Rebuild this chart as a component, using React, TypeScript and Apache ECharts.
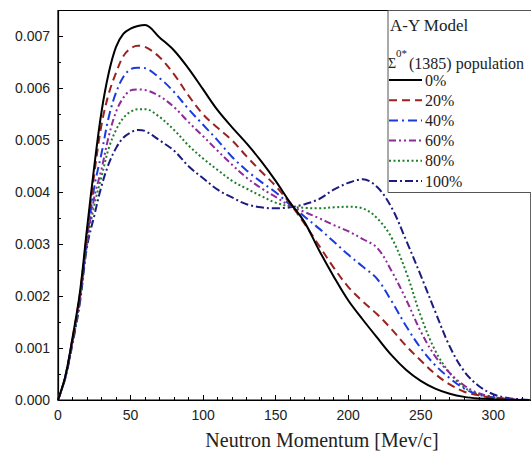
import React, { useEffect, useRef } from "react";
import * as echarts from "echarts";

// Neutron momentum (MeV/c)
const momentum = [0, 5, 10, 15, 20, 25, 30, 35, 40, 45, 50, 55, 60, 70, 80, 90, 100, 110, 120, 130, 140, 150, 160, 170, 180, 190, 200, 210, 220, 230, 240, 250, 260, 270, 280, 290, 300, 310, 320, 325];

// Values in units of 1e-3
const pop0 = [0, 0.45, 1.2, 2.05, 3.3, 4.5, 5.55, 6.3, 6.8, 7.05, 7.15, 7.2, 7.22, 6.98, 6.73, 6.38, 5.98, 5.58, 5.25, 4.94, 4.6, 4.22, 3.8, 3.42, 2.88, 2.38, 1.92, 1.55, 1.2, 0.86, 0.58, 0.37, 0.22, 0.12, 0.06, 0.03, 0.015, 0.005, 0, 0];
const pop20 = [0, 0.45, 1.18, 2.02, 3.2, 4.35, 5.3, 5.9, 6.3, 6.62, 6.77, 6.82, 6.8, 6.6, 6.27, 5.86, 5.5, 5.24, 5.0, 4.69, 4.4, 4.12, 3.78, 3.39, 2.97, 2.55, 2.18, 1.9, 1.65, 1.36, 1.04, 0.76, 0.5, 0.3, 0.16, 0.09, 0.04, 0.015, 0, 0];
const pop40 = [0, 0.44, 1.15, 1.98, 3.1, 4.1, 4.75, 5.45, 5.92, 6.22, 6.37, 6.4, 6.39, 6.2, 5.93, 5.6, 5.3, 5.0, 4.68, 4.42, 4.2, 4.0, 3.76, 3.53, 3.3, 3.05, 2.8, 2.57, 2.33, 1.9, 1.42, 1.0, 0.67, 0.42, 0.22, 0.1, 0.05, 0.02, 0, 0];
const pop60 = [0, 0.44, 1.13, 1.95, 3.05, 3.9, 4.45, 5.08, 5.55, 5.82, 5.96, 5.98, 5.97, 5.85, 5.64, 5.35, 5.08, 4.8, 4.53, 4.28, 4.08, 3.91, 3.74, 3.62, 3.5, 3.37, 3.25, 3.1, 2.93, 2.48, 1.93, 1.32, 0.84, 0.52, 0.28, 0.13, 0.06, 0.02, 0, 0];
const pop80 = [0, 0.43, 1.1, 1.9, 3.0, 3.75, 4.3, 4.85, 5.2, 5.43, 5.55, 5.6, 5.6, 5.45, 5.2, 4.9, 4.65, 4.43, 4.22, 4.07, 3.93, 3.8, 3.73, 3.7, 3.69, 3.71, 3.72, 3.69, 3.5, 3.12, 2.46, 1.62, 0.95, 0.52, 0.24, 0.11, 0.05, 0.02, 0, 0];
const pop100 = [0, 0.42, 1.08, 1.85, 2.95, 3.55, 4.12, 4.55, 4.85, 5.05, 5.15, 5.2, 5.18, 5.0, 4.8, 4.5, 4.27, 4.05, 3.9, 3.77, 3.71, 3.69, 3.71, 3.77, 3.87, 4.05, 4.18, 4.25, 4.1, 3.7, 3.07, 2.4, 1.7, 1.03, 0.55, 0.27, 0.11, 0.04, 0.01, 0];

const seriesNames = ["0%", "20%", "40%", "60%", "80%", "100%"];
const seriesValues = [pop0, pop20, pop40, pop60, pop80, pop100];
const seriesColors = ["#000000", "#9b2222", "#1a3be0", "#8e2a9a", "#1f7f2a", "#1c1c80"];
const seriesDash: any[] = [null, [8, 5], [9, 4, 2, 4], [7, 3, 2, 3, 2, 3], [2, 2.5], [8, 3, 2, 3]];

const legendTitle = "A-Y Model";
const legendSubtitle = "(1385) population";
const xAxisTitle = "Neutron Momentum [Mev/c]";

const SERIF = "'Times New Roman', 'Liberation Serif', serif";
const SANS = "Arial, 'Liberation Sans', sans-serif";

export default function App() {
  const ref = useRef<HTMLDivElement>(null);
  useEffect(() => {
    if (!ref.current) return;
    const chart = echarts.init(ref.current, undefined, { renderer: "svg" });
    const series = seriesNames.map((name, i) => ({
      name,
      type: "line",
      data: momentum.map((x, j) => [x, seriesValues[i][j] * 1e-3]),
      showSymbol: false,
      symbol: "none",
      smooth: 0.35,
      lineStyle: { color: seriesColors[i], width: 2, type: seriesDash[i] || "solid" },
      itemStyle: { color: seriesColors[i] },
      z: 10 - i,
    }));

    const legendRowY = 80;
    const legendRowGap = 20.2;
    const legendItems: any[] = [];
    seriesNames.forEach((name, i) => {
      const y = legendRowY + i * legendRowGap;
      legendItems.push({
        type: "line",
        z: 5,
        shape: { x1: 389, y1: y, x2: 422, y2: y },
        style: {
          stroke: seriesColors[i],
          lineWidth: 2,
          lineDash: seriesDash[i] || undefined,
        },
      });
      legendItems.push({
        type: "text",
        z: 5,
        x: 425,
        y,
        style: { text: name, font: `16px ${SERIF}`, fill: "#222", verticalAlign: "middle", align: "left" },
      });
    });

    chart.setOption({
      animation: false,
      backgroundColor: "#ffffff",
      grid: {
        left: 58,
        right: -1,
        top: 10.5,
        bottom: 54,
        show: true,
        borderColor: "#000",
        borderWidth: 1.2,
        backgroundColor: "transparent",
      },
      xAxis: {
        type: "value",
        min: 0,
        max: 326,
        interval: 50,
        axisLine: { show: true, lineStyle: { color: "#000", width: 1.2 } },
        axisTick: { show: true, inside: true, length: 5, lineStyle: { color: "#000" } },
        minorTick: { show: true, splitNumber: 5, length: 3, lineStyle: { color: "#000" } },
        splitLine: { show: false },
        axisLabel: {
          margin: 8,
          fontFamily: SANS,
          fontSize: 14,
          color: "#222",
          showMaxLabel: false,
          formatter: (v: number) => (v % 50 === 0 ? String(v) : ""),
        },
      },
      yAxis: {
        type: "value",
        min: 0,
        max: 0.0075,
        interval: 0.001,
        axisLine: { show: true, lineStyle: { color: "#000", width: 1.2 } },
        axisTick: { show: true, inside: true, length: 5, lineStyle: { color: "#000" } },
        minorTick: { show: true, splitNumber: 2, length: 3, lineStyle: { color: "#000" } },
        splitLine: { show: false },
        axisLabel: {
          margin: 8,
          fontFamily: SANS,
          fontSize: 14,
          color: "#222",
          showMaxLabel: false,
          formatter: (v: number) => (v > 0.00705 ? "" : v.toFixed(3)),
        },
      },
      graphic: [
        {
          type: "rect",
          z: 1,
          shape: { x: 388, y: 10.5, width: 200, height: 182 },
          style: { fill: "#fff", stroke: "#555", lineWidth: 1 },
        },
        {
          type: "text",
          z: 5,
          x: 390,
          y: 25,
          style: { text: legendTitle, font: `17px ${SERIF}`, fill: "#222", verticalAlign: "middle", align: "left" },
        },
        {
          type: "text",
          z: 5,
          x: 388,
          y: 63,
          style: { text: "Σ", font: `14px ${SERIF}`, fill: "#222", verticalAlign: "middle", align: "left" },
        },
        {
          type: "text",
          z: 5,
          x: 396,
          y: 53,
          style: { text: "0*", font: `11px ${SERIF}`, fill: "#222", verticalAlign: "middle", align: "left" },
        },
        {
          type: "text",
          z: 5,
          x: 409,
          y: 63,
          style: { text: legendSubtitle, font: `16px ${SERIF}`, fill: "#222", verticalAlign: "middle", align: "left" },
        },
        ...legendItems,
        {
          type: "text",
          z: 5,
          x: 322,
          y: 440,
          style: { text: xAxisTitle, font: `20px ${SERIF}`, fill: "#222", verticalAlign: "middle", align: "center" },
        },
      ],
      series,
    });
    return () => chart.dispose();
  }, []);
  return (
    <div
      ref={ref}
      style={{ position: "fixed", left: 0, top: 0, width: 531, height: 454, background: "#fff" }}
    />
  );
}
